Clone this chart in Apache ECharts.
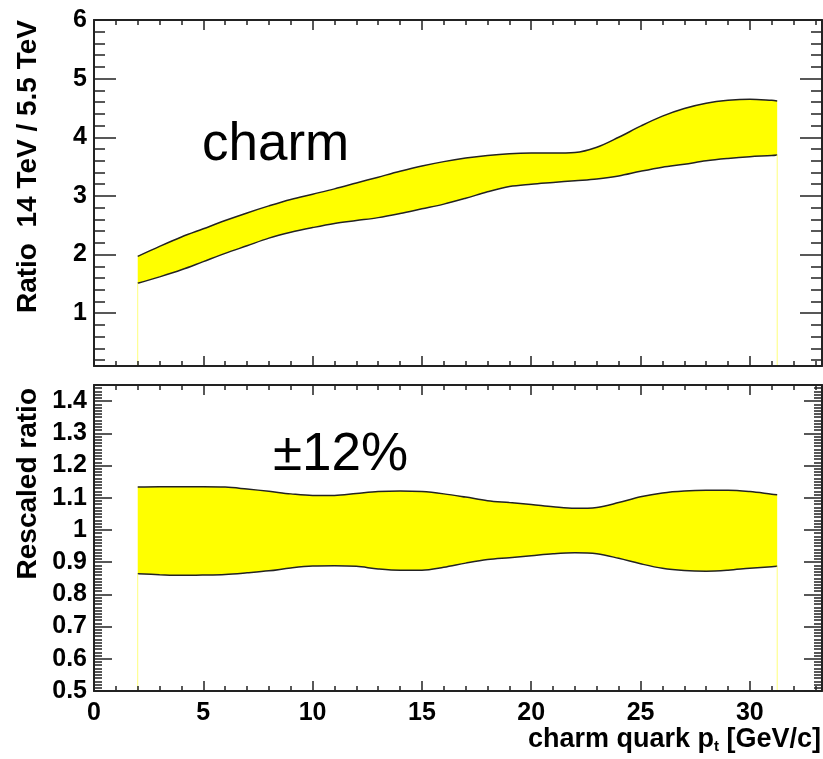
<!DOCTYPE html>
<html><head><meta charset="utf-8">
<script src="https://cdn.jsdelivr.net/npm/echarts@6/dist/echarts.min.js"></script>
<style>html,body{margin:0;padding:0;background:#fff}#c{width:823px;height:759px}</style>
</head><body><div id="c"></div>
<script>
// ---- data ----
const ptX = [2,3,4,5,6,7,8,9,10,11,12,13,14,15,16,17,18,19,20,21,22,23,24,25,26,27,28,29,30,31,31.25];
const ratioUpper = [1.97,2.14,2.30,2.44,2.58,2.71,2.83,2.94,3.03,3.12,3.22,3.32,3.42,3.51,3.585,3.645,3.69,3.72,3.73,3.73,3.74,3.83,4.00,4.19,4.36,4.49,4.58,4.63,4.65,4.63,4.62];
const ratioLower = [1.51,1.62,1.74,1.88,2.02,2.15,2.28,2.38,2.46,2.53,2.58,2.63,2.70,2.78,2.86,2.96,3.07,3.16,3.20,3.23,3.26,3.29,3.34,3.42,3.49,3.54,3.60,3.64,3.67,3.69,3.70];
const rescaledUpper = [1.133,1.134,1.134,1.134,1.133,1.127,1.120,1.112,1.107,1.107,1.113,1.119,1.121,1.119,1.112,1.102,1.091,1.085,1.079,1.072,1.067,1.070,1.085,1.103,1.115,1.121,1.123,1.123,1.119,1.111,1.109];
const rescaledLower = [0.864,0.861,0.859,0.860,0.862,0.867,0.873,0.882,0.888,0.889,0.887,0.879,0.875,0.875,0.884,0.897,0.908,0.914,0.920,0.926,0.929,0.926,0.912,0.895,0.881,0.874,0.872,0.875,0.881,0.886,0.887];
const xTickLabels = [0,5,10,15,20,25,30];
const ratioTickLabels = [1,2,3,4,5,6];
const rescaledTickLabels = [0.5,0.6,0.7,0.8,0.9,1,1.1,1.2,1.3,1.4];
const xRange = [0, 33.3];
const ratioRange = [0.1, 6];
const rescaledRange = [0.5, 1.45];
const xMinorStep = 1, ratioMinorStep = 0.2, rescaledMinorStep = 0.01;

// ---- helpers ----
function steps(lo, hi, st) {
  const out = [];
  const n = Math.round((hi - lo) / st);
  for (let i = 0; i <= n; i++) out.push(+(lo + i * st).toFixed(4));
  return out;
}
const FONT = '"Liberation Sans", Arial, Helvetica, sans-serif';
const INK = '#222';
function axis(grid, pos, range, ticks, len, opts) {
  opts = opts || {};
  return {
    type: 'value', gridIndex: grid, position: pos, min: range[0], max: range[1], z: 6,
    axisLine: { show: !!opts.line, onZero: false, lineStyle: { color: INK, width: 2 } },
    axisTick: { show: true, inside: true, length: len, customValues: ticks, lineStyle: { color: INK, width: 1.5 } },
    axisLabel: opts.labels ? {
      show: true, customValues: opts.labels, margin: opts.margin,
      color: '#000', fontFamily: FONT, fontWeight: 'bold', fontSize: 25,
      formatter: v => String(+(+v).toFixed(2)),
      showMinLabel: true, showMaxLabel: true
    } : { show: false },
    splitLine: { show: false }, minorTick: { show: false }, minorSplitLine: { show: false }
  };
}
const xMinor = steps(xRange[0], 33, xMinorStep);
const ratioMinor = steps(0.2, 5.8, ratioMinorStep);
const rescaledMinor = steps(0.5, 1.45, rescaledMinorStep);

const xAxes = [
  axis(0, 'bottom', xRange, xTickLabels, 10, { line: true }),
  axis(0, 'bottom', xRange, xMinor, 5),
  axis(0, 'top', xRange, xTickLabels, 10, { line: true }),
  axis(0, 'top', xRange, xMinor, 5),
  axis(1, 'bottom', xRange, xTickLabels, 10, { line: true, labels: xTickLabels, margin: 10 }),
  axis(1, 'bottom', xRange, xMinor, 5),
  axis(1, 'top', xRange, xTickLabels, 10, { line: true }),
  axis(1, 'top', xRange, xMinor, 5)
];
const yAxes = [
  axis(0, 'left', ratioRange, ratioTickLabels, 22, { line: true, labels: ratioTickLabels, margin: 7 }),
  axis(0, 'left', ratioRange, ratioMinor, 11),
  axis(0, 'right', ratioRange, ratioTickLabels, 22, { line: true }),
  axis(0, 'right', ratioRange, ratioMinor, 11),
  axis(1, 'left', rescaledRange, rescaledTickLabels, 18, { line: true, labels: rescaledTickLabels, margin: 7 }),
  axis(1, 'left', rescaledRange, rescaledMinor, 8),
  axis(1, 'right', rescaledRange, rescaledTickLabels, 18, { line: true }),
  axis(1, 'right', rescaledRange, rescaledMinor, 8)
];

// band = yellow area under the upper curve, then white area under the lower curve
function bandSeries(xi, yi, upper, lower, ymin) {
  const upPts = ptX.map((x, i) => [x, upper[i]]);
  const lowPts = ptX.map((x, i) => [x, lower[i]]);
  const last = ptX.length - 1;
  const edge = (i) => ({
    type: 'line', xAxisIndex: xi, yAxisIndex: yi, symbol: 'none', silent: true, z: 4,
    lineStyle: { color: '#ffff88', width: 1 },
    data: [[ptX[i], ymin], [ptX[i], lower[i]]]
  });
  return [
    { type: 'line', xAxisIndex: xi, yAxisIndex: yi, data: upPts, smooth: 0.35,
      symbol: 'none', silent: true, z: 2, lineStyle: { color: INK, width: 1.5 },
      areaStyle: { color: '#ffff00', opacity: 1, origin: 'start' } },
    { type: 'line', xAxisIndex: xi, yAxisIndex: yi, data: lowPts, smooth: 0.35,
      symbol: 'none', silent: true, z: 3, lineStyle: { color: INK, width: 1.5 },
      areaStyle: { color: '#ffffff', opacity: 1, origin: 'start' } },
    edge(0), edge(last)
  ];
}

const chart = echarts.init(document.getElementById('c'), null, { renderer: 'canvas' });
chart.setOption({
  animation: false,
  backgroundColor: '#fff',
  grid: [
    { left: 94, right: 1, top: 20, height: 346, outerBoundsMode: 'none', containLabel: false },
    { left: 94, right: 1, top: 385, height: 306, outerBoundsMode: 'none', containLabel: false }
  ],
  xAxis: xAxes,
  yAxis: yAxes,
  series: [
    ...bandSeries(0, 0, ratioUpper, ratioLower, ratioRange[0]),
    ...bandSeries(4, 4, rescaledUpper, rescaledLower, rescaledRange[0])
  ],
  graphic: [
    { type: 'text', x: 28, y: 20, rotation: Math.PI / 2, z: 10,
      style: { text: 'Ratio  14 TeV / 5.5 TeV', font: 'bold 28px ' + FONT, fill: '#000',
        textAlign: 'right', textVerticalAlign: 'middle', align: 'right', verticalAlign: 'middle' } },
    { type: 'text', x: 28, y: 388, rotation: Math.PI / 2, z: 10,
      style: { text: 'Rescaled ratio', font: 'bold 28px ' + FONT, fill: '#000',
        textAlign: 'right', textVerticalAlign: 'middle', align: 'right', verticalAlign: 'middle' } },
    { type: 'text', x: 821, y: 740, z: 10,
      style: { text: 'charm quark p{sub|t} [GeV/c]', font: 'bold 27px ' + FONT, fill: '#000',
        textAlign: 'right', textVerticalAlign: 'middle', align: 'right', verticalAlign: 'middle',
        rich: { sub: { font: 'bold 15px ' + FONT, fill: '#000', verticalAlign: 'bottom', padding: [14, 0, 0, 0] } } } },
    { type: 'text', x: 202, y: 172, z: 10,
      style: { text: 'charm', font: '53px ' + FONT, fill: '#000',
        textAlign: 'left', textVerticalAlign: 'bottom', align: 'left', verticalAlign: 'bottom' } },
    { type: 'text', x: 273, y: 482, z: 10,
      style: { text: '\u00b112%', font: '53px ' + FONT, fill: '#000',
        textAlign: 'left', textVerticalAlign: 'bottom', align: 'left', verticalAlign: 'bottom' } }
  ]
});
</script></body></html>
